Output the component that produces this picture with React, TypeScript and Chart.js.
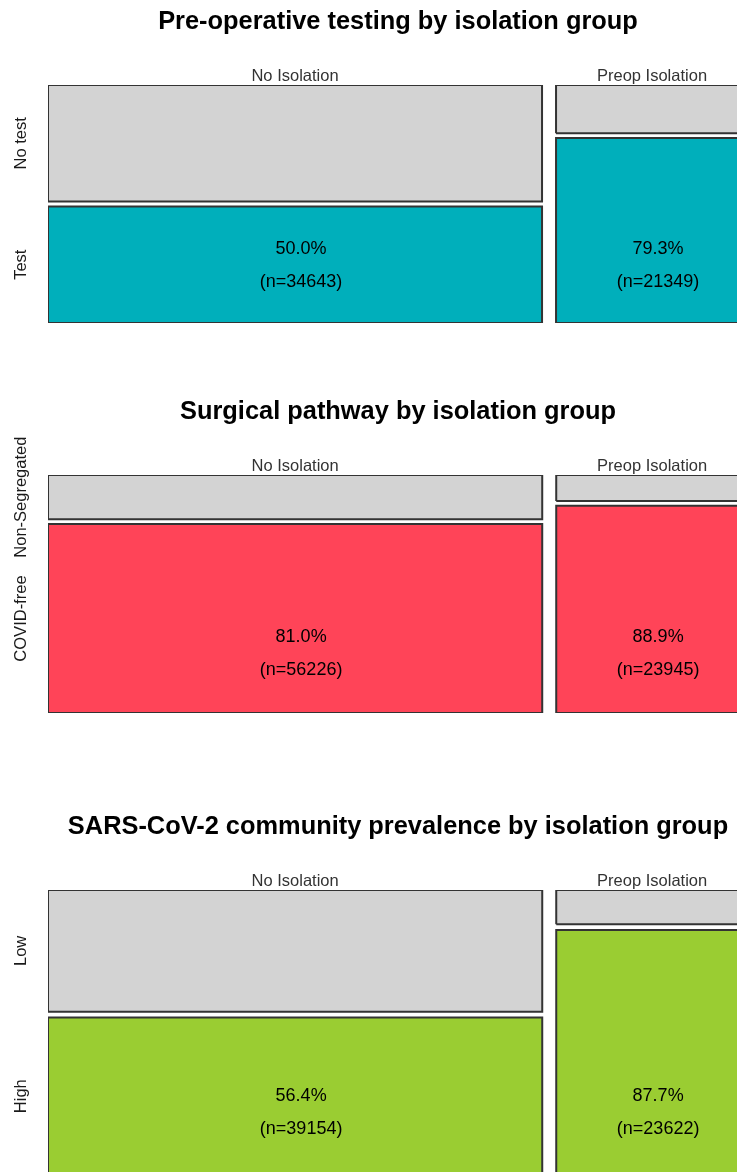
import React, { useEffect, useRef } from "react";
import { Chart, registerables } from "chart.js";

Chart.register(...registerables);

// ---------------- data ----------------
const groups = ["No Isolation", "Preop Isolation"];

const testingTitle = "Pre-operative testing by isolation group";
const testingRows = ["Test", "No test"]; // bottom (coloured), top (grey)
const testingPct = [50.0, 79.3];
const testingN = [34643, 21349];

const pathwayTitle = "Surgical pathway by isolation group";
const pathwayRows = ["COVID-free", "Non-Segregated"];
const pathwayPct = [81.0, 88.9];
const pathwayN = [56226, 23945];

const prevalenceTitle = "SARS-CoV-2 community prevalence by isolation group";
const prevalenceRows = ["High", "Low"];
const prevalencePct = [56.4, 87.7];
const prevalenceN = [39154, 23622];

// ---------------- style / layout ----------------
const FONT = "'Liberation Sans', Arial, Helvetica, sans-serif";
const GREY = "#d3d3d3";
const EDGE = "#333333";
const GAP = 0.02;
const CANVAS_W = 800;

type PanelCfg = {
  title: string;
  rows: string[];
  pct: number[];
  n: number[];
  color: string;
  top: number;
  height: number;
  bottomPad: number;
  labelAt: number;
};

const panels: PanelCfg[] = [
  { title: testingTitle, rows: testingRows, pct: testingPct, n: testingN, color: "#00AFBB", top: 0, height: 390, bottomPad: 67, labelAt: 0.245 },
  { title: pathwayTitle, rows: pathwayRows, pct: pathwayPct, n: pathwayN, color: "#FF4458", top: 390, height: 415, bottomPad: 92, labelAt: 0.25 },
  { title: prevalenceTitle, rows: prevalenceRows, pct: prevalencePct, n: prevalenceN, color: "#9ACD32", top: 805, height: 380, bottomPad: 10, labelAt: 0.22 },
];

function geometry(cfg: PanelCfg) {
  const totals = cfg.n.map((v, i) => v / (cfg.pct[i] / 100));
  const sum = totals.reduce((a, b) => a + b, 0);
  const usable = 1 - GAP * (totals.length - 1);
  let x = 0;
  return totals.map((t, i) => {
    const w = (usable * t) / sum;
    const x0 = x;
    const x1 = x + w;
    x = x1 + GAP;
    const split = (1 - GAP) * (cfg.pct[i] / 100);
    return { x0, x1, low: [0, split], high: [split + GAP, 1] };
  });
}

const rect = (x0: number, x1: number, y0: number, y1: number) => [
  { x: x0, y: y0 },
  { x: x1, y: y0 },
  { x: x1, y: y1 },
  { x: x0, y: y1 },
  { x: x0, y: y0 },
];

function Panel({ cfg }: { cfg: PanelCfg }) {
  const ref = useRef<HTMLCanvasElement | null>(null);

  useEffect(() => {
    if (!ref.current) return;
    const geo = geometry(cfg);
    const datasets: any[] = [];
    geo.forEach((g, i) => {
      datasets.push({
        type: "line",
        label: `${groups[i]} - ${cfg.rows[0]}`,
        data: rect(g.x0, g.x1, g.low[0], g.low[1]),
        backgroundColor: cfg.color,
        borderColor: EDGE,
        borderWidth: 2,
        borderJoinStyle: "miter",
        fill: "shape",
        pointRadius: 0,
        tension: 0,
      });
      datasets.push({
        type: "line",
        label: `${groups[i]} - ${cfg.rows[1]}`,
        data: rect(g.x0, g.x1, g.high[0], g.high[1]),
        backgroundColor: GREY,
        borderColor: EDGE,
        borderWidth: 2,
        borderJoinStyle: "miter",
        fill: "shape",
        pointRadius: 0,
        tension: 0,
      });
    });

    const labels = {
      id: "mosaicLabels",
      afterDatasetsDraw(chart: any) {
        const { ctx, chartArea, scales } = chart;
        const xs = scales.x;
        const ys = scales.y;
        ctx.save();
        ctx.textAlign = "center";
        ctx.textBaseline = "middle";
        // column headers
        ctx.font = `16.5px ${FONT}`;
        ctx.fillStyle = "#333333";
        geo.forEach((g, i) => {
          const cx = xs.getPixelForValue((g.x0 + g.x1) / 2);
          ctx.fillText(groups[i], cx, chartArea.top - 9);
        });
        // row labels (rotated), centred on first column's rows
        ctx.font = `16.5px ${FONT}`;
        ctx.fillStyle = "#1a1a1a";
        const g0 = geo[0];
        const rowMids = [(g0.low[0] + g0.low[1]) / 2, (g0.high[0] + g0.high[1]) / 2];
        rowMids.forEach((m, r) => {
          ctx.save();
          ctx.translate(chartArea.left - 27, ys.getPixelForValue(m));
          ctx.rotate(-Math.PI / 2);
          ctx.fillText(cfg.rows[r], 0, 0);
          ctx.restore();
        });
        // cell labels
        ctx.font = `18px ${FONT}`;
        ctx.fillStyle = "#000000";
        geo.forEach((g, i) => {
          const cx = xs.getPixelForValue((g.x0 + g.x1) / 2) + 6;
          const cy = ys.getPixelForValue(cfg.labelAt);
          ctx.fillText(`${cfg.pct[i].toFixed(1)}%`, cx, cy - 16);
          ctx.fillText(`(n=${cfg.n[i]})`, cx, cy + 17);
        });
        ctx.restore();
      },
    };

    const chart = new Chart(ref.current, {
      type: "line",
      data: { datasets },
      options: {
        animation: false,
        responsive: false,
        devicePixelRatio: 1,
        layout: { autoPadding: false, padding: { left: 48, right: CANVAS_W - 748, top: 0, bottom: cfg.bottomPad } },
        scales: {
          x: { type: "linear", min: 0, max: 1, display: false },
          y: { type: "linear", min: 0, max: 1, display: false },
        },
        plugins: {
          legend: { display: false },
          tooltip: { enabled: false },
          title: {
            display: true,
            text: cfg.title,
            color: "#000000",
            font: { family: FONT, size: 25.4, weight: "bold", lineHeight: 1.2 },
            padding: { top: 7, bottom: 47.52 },
          },
        },
      } as any,
      plugins: [labels],
    });
    return () => chart.destroy();
  }, [cfg]);

  return (
    <canvas
      ref={ref}
      width={CANVAS_W}
      height={cfg.height}
      style={{ position: "absolute", left: 0, top: cfg.top, width: CANVAS_W, height: cfg.height }}
    />
  );
}

export default function App() {
  return (
    <div
      style={{
        position: "absolute",
        left: 0,
        top: 0,
        width: 737,
        height: 1172,
        overflow: "hidden",
        background: "#ffffff",
      }}
    >
      {panels.map((p, i) => (
        <Panel key={i} cfg={p} />
      ))}
    </div>
  );
}
